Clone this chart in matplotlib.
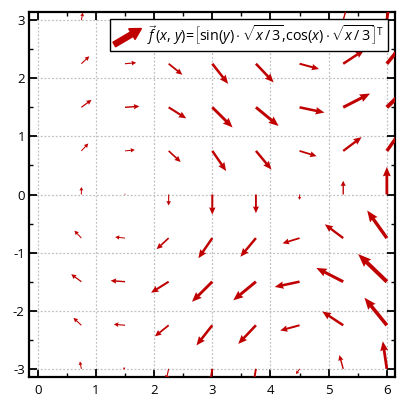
import numpy as np
import matplotlib
matplotlib.use("Agg")
import matplotlib.pyplot as plt
from matplotlib.patches import FancyArrow
from matplotlib.legend_handler import HandlerBase
from matplotlib.ticker import MultipleLocator

plt.rcParams['font.family'] = ['Open Sans', 'DejaVu Sans']
plt.rcParams['axes.unicode_minus'] = False
plt.rcParams['mathtext.fontset'] = 'custom'
plt.rcParams['mathtext.rm'] = 'Open Sans'
plt.rcParams['mathtext.it'] = 'Open Sans:italic'

# grid of sample points
x_vals = [0.0, 0.75, 1.5, 2.25, 3.0, 3.75, 4.5, 5.25, 6.0]
y_vals = [-3.0, -2.25, -1.5, -0.75, 0.0, 0.75, 1.5, 2.25, 3.0]
# field factors read per column / row
sqrt_x3 = [0.0, 0.500, 0.707, 0.866, 1.000, 1.118, 1.225, 1.323, 1.414]   # sqrt(x/3)
cos_x = [1.000, 0.732, 0.071, -0.628, -0.990, -0.821, -0.211, 0.512, 0.960]  # cos(x)
sin_y = [-0.141, -0.778, -0.997, -0.682, 0.000, 0.682, 0.997, 0.778, 0.141]  # sin(y)

legend_label = (r'$\vec{f}\,(x,\,y)\!=\!\left[\mathrm{sin}(y)\cdot\sqrt{x\,/\,3}{,}'
                r'\mathrm{cos}(x)\cdot\sqrt{x\,/\,3}\right]^{\mathrm{T}}$')

color = '#C00000'
arrow_scale = 0.35   # data length per unit magnitude

X, Y = np.meshgrid(x_vals, y_vals)
U = np.outer(sin_y, sqrt_x3)
V = np.outer(np.ones(len(y_vals)), np.array(cos_x) * np.array(sqrt_x3))

fig = plt.figure(figsize=(4.0, 4.12), dpi=100)
ax = fig.add_axes([29/400, 1-377/412, 366/400, 365/412])
xlim = (-0.15, 6.14)
ylim = (-3.14, 3.14)
px_per_unit = 366 / (xlim[1] - xlim[0])

M = np.hypot(U, V)
for i in range(X.shape[0]):
    for j in range(X.shape[1]):
        m = M[i, j]
        if m <= 1e-9:
            continue
        L = arrow_scale * m * px_per_unit          # arrow length in px
        w_px = max(1.0, 0.1 * L)
        hl_px = 0.3 * L + 1.2
        hw_px = 0.2 * L + 2.4
        ax.quiver(X[i, j], Y[i, j], U[i, j], V[i, j], angles='xy',
                  scale_units='xy', scale=1/arrow_scale, units='xy',
                  width=w_px / px_per_unit,
                  headwidth=hw_px / w_px, headlength=hl_px / w_px,
                  headaxislength=0.92 * hl_px / w_px, minlength=0.1,
                  pivot='tail', color=color, zorder=3, clip_on=True)

ax.set_xlim(*xlim)
ax.set_ylim(*ylim)
ax.xaxis.set_major_locator(MultipleLocator(1))
ax.xaxis.set_minor_locator(MultipleLocator(0.5))
ax.yaxis.set_major_locator(MultipleLocator(1))
ax.yaxis.set_minor_locator(MultipleLocator(0.5))
ax.tick_params(which='both', direction='in', top=True, right=True, colors='black',
               labelsize=9.5)
ax.tick_params(which='major', length=6, width=1.3)
ax.tick_params(which='minor', length=3, width=1.0)
ax.tick_params(axis='x', pad=5)
ax.tick_params(axis='y', pad=3)
for s in ax.spines.values():
    s.set_linewidth(1.6)
    s.set_color('black')
ax.grid(True, which='major', linestyle=(0, (1.5, 1.5)), color='#c0c0c0', linewidth=0.9)
ax.set_axisbelow(True)


class ArrowHandler(HandlerBase):
    def create_artists(self, legend, orig_handle, xdescent, ydescent, width, height,
                       fontsize, trans):
        x0 = -xdescent
        y0 = -ydescent - 0.15 * height
        dx = width
        dy = height * 1.25
        arr = FancyArrow(x0, y0, dx, dy, width=3.8, head_width=9.0, head_length=8.0,
                         length_includes_head=True, color=color, transform=trans)
        return [arr]


proxy = FancyArrow(0, 0, 1, 1)
leg = ax.legend([proxy], [legend_label], handler_map={FancyArrow: ArrowHandler()},
                loc='upper right', bbox_to_anchor=(0.981, 0.981), borderaxespad=0,
                fancybox=False, framealpha=1, edgecolor='black', fontsize=10.3,
                handlelength=1.9, handleheight=1.0, handletextpad=0.4,
                borderpad=0.3)
leg.get_frame().set_linewidth(1.0)

fig.savefig('out.png', dpi=100)
